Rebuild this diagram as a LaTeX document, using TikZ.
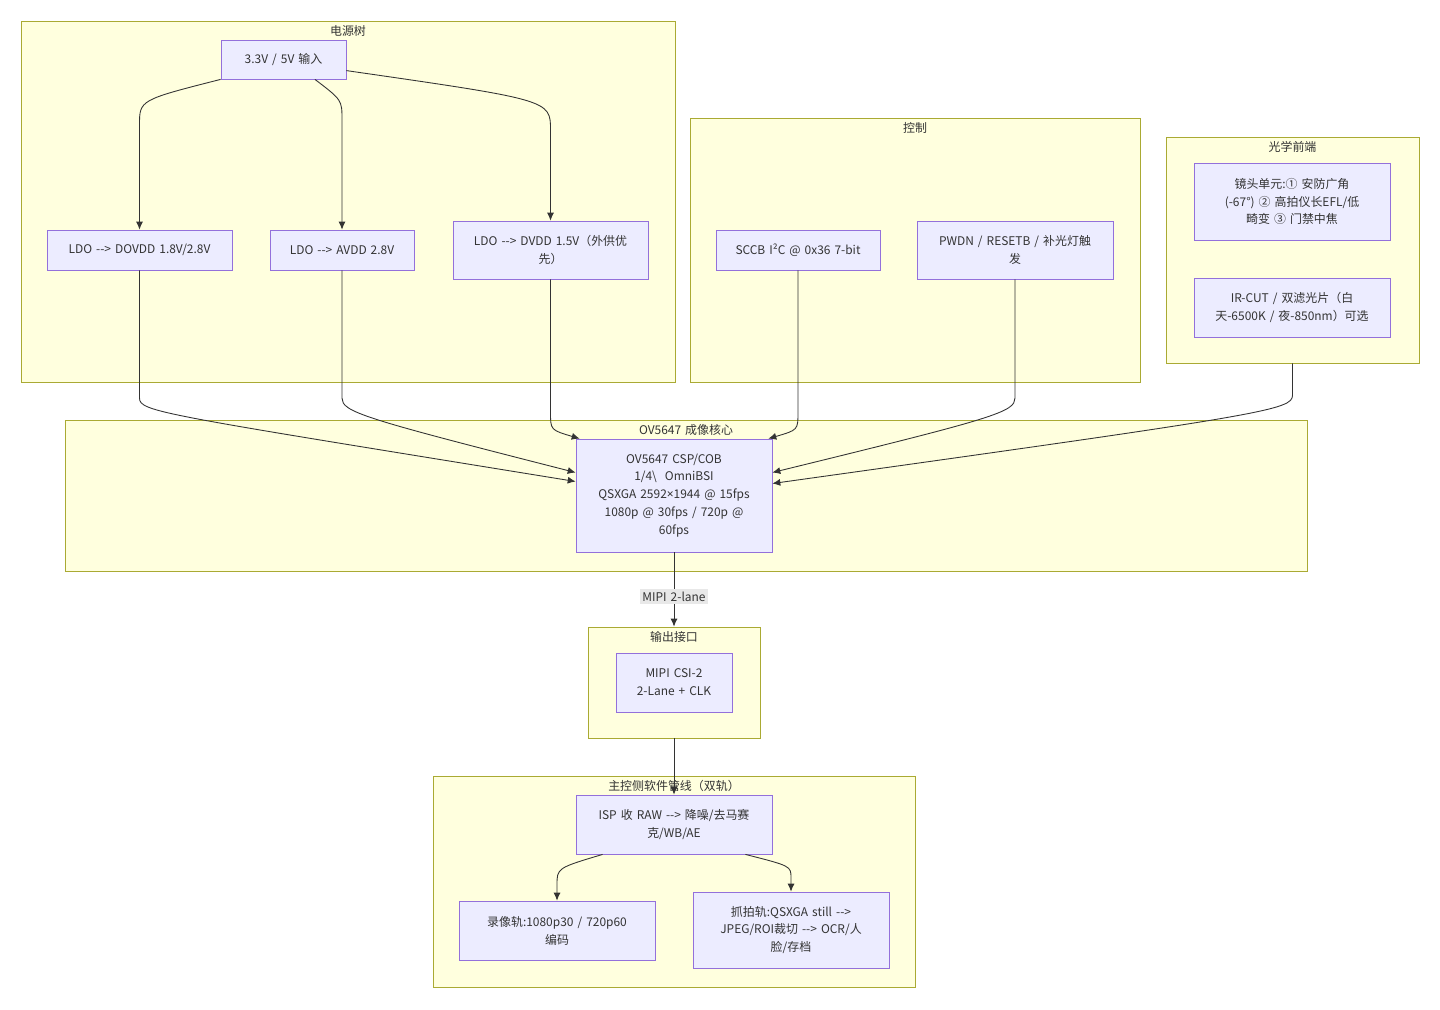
\documentclass[tikz,border=0pt]{standalone}
\usepackage{fontspec}
\setmainfont{Noto Sans CJK SC}[Ligatures=TeXOff,WordSpace=1.5]
\newfontfamily\latinfont{Noto Sans}
\usetikzlibrary{arrows.meta,calc}

\definecolor{clfill}{HTML}{FFFFDE}
\definecolor{cldraw}{HTML}{AAAA33}
\definecolor{ndfill}{HTML}{ECECFF}
\definecolor{nddraw}{HTML}{9370DB}
\definecolor{edgecol}{HTML}{333333}
\definecolor{lblfill}{HTML}{E8E8E8}
\newdimen\pu \pu=0.02cm

\begin{document}
\begin{tikzpicture}[x=0.02cm,y=-0.02cm,font=\fontsize{6.8}{10.2}\selectfont,text=edgecol]
  \tikzset{cluster/.style = {draw=cldraw,fill=clfill,line width=0.45pt,inner sep=0}}
  \tikzset{box/.style = {draw=nddraw,fill=ndfill,line width=0.45pt,inner sep=0,align=center}}
  \tikzset{edge/.style = {draw=edgecol,line width=0.5pt,-{Latex[length=4.5pt,width=4pt]}}}
  \tikzset{title/.style = {anchor=north,inner sep=1pt,yshift=-1.5pt}}

  \useasboundingbox (0,0) rectangle (1440,1009);
  \fill[white] (0,0) rectangle (1440,1009);

  % subgraphs
  \node[cluster,minimum width=654\pu,minimum height=361\pu] (power) at (348,201.5) {};
  \node[cluster,minimum width=450\pu,minimum height=264\pu] (ctrl) at (915,250) {};
  \node[cluster,minimum width=253\pu,minimum height=226\pu] (optic) at (1292.5,250) {};
  \node[cluster,minimum width=1242\pu,minimum height=151\pu] (core) at (686,495.5) {};
  \node[cluster,minimum width=172\pu,minimum height=111\pu] (out) at (674,682.5) {};
  \node[cluster,minimum width=482\pu,minimum height=211\pu] (host) at (674,881.5) {};

  \node[title] at (power.north) {电源树};
  \node[title] at (ctrl.north) {控制};
  \node[title] at (optic.north) {光学前端};
  \node[title] at (core.north) {OV5647 成像核心};
  \node[title] at (out.north) {输出接口};
  \node[title] at (host.north) {主控侧软件管线（双轨）};

  % power tree
  \node[box,minimum width=125\pu,minimum height=39\pu] (src) at (283.5,59.5) {3.3V / 5V 输入};
  \node[box,minimum width=185\pu,minimum height=40\pu] (ldoA) at (139.5,250) {LDO --> DOVDD 1.8V/2.8V};
  \node[box,minimum width=144\pu,minimum height=40\pu] (ldoB) at (342,250) {LDO --> AVDD 2.8V};
  \node[box,minimum width=195\pu,minimum height=58\pu] (ldoC) at (550.5,250) {LDO --> DVDD 1.5V（外供优\\先）};

  % control
  \node[box,minimum width=164\pu,minimum height=40\pu] (sccb) at (798,250) {SCCB I²C @ 0x36 7-bit};
  \node[box,minimum width=196\pu,minimum height=58\pu] (pwdn) at (1015,250) {PWDN / RESETB / 补光灯触\\发};

  % optics
  \node[box,minimum width=196\pu,minimum height=77\pu] (lens) at (1292,201.5) {镜头单元:① 安防广角\\(-67°) ② 高拍仪长EFL/低\\畸变 ③ 门禁中焦};
  \node[box,minimum width=196\pu,minimum height=59\pu] (ircut) at (1292,307.5) {IR-CUT / 双滤光片（白\\天-6500K / 夜-850nm）可选};

  % sensor
  \node[box,minimum width=196\pu,minimum height=113\pu] (sensor) at (674,495.5) {OV5647 CSP/COB\\1/4\textbackslash\ \ OmniBSI\\QSXGA 2592{\latinfont ×}1944 @ 15fps\\1080p @ 30fps / 720p @\\60fps};

  % output and host
  \node[box,minimum width=116\pu,minimum height=59\pu] (csi) at (674,682.5) {MIPI CSI-2\\2-Lane + CLK};
  \node[box,minimum width=196\pu,minimum height=59\pu] (isp) at (674,824.5) {ISP 收 RAW --> 降噪/去马赛\\克/WB/AE};
  \node[box,minimum width=196\pu,minimum height=59\pu] (rec) at (557,930.5) {录像轨:1080p30 / 720p60\\编码};
  \node[box,minimum width=196\pu,minimum height=76\pu] (snap) at (791,930) {抓拍轨:QSXGA still -->\\JPEG/ROI裁切 --> OCR/人\\脸/存档};

  % edges
  \draw[edge] (src.south west) .. controls (ldoA.north |- 0,100) .. (ldoA.north |- 0,125) -- (ldoA.north);
  \draw[edge] ($(src.south)!0.5!(src.south east)$) .. controls (ldoB.north |- 0,100) .. (ldoB.north |- 0,120) -- (ldoB.north);
  \draw[edge] (src.-10) .. controls (ldoC.north |- 0,100) .. (ldoC.north |- 0,130) -- (ldoC.north);

  \draw[edge] (ldoA.south) -- (ldoA.south |- 0,398) .. controls (ldoA.south |- 0,412) and (160,414) .. ($(sensor.west)+(0,-14)$);
  \draw[edge] (ldoB.south) -- (ldoB.south |- 0,398) .. controls (ldoB.south |- 0,412) and (362,418) .. ($(sensor.west)+(0,-23)$);
  \draw[edge] (ldoC.south) -- (ldoC.south |- 0,412) .. controls (ldoC.south |- 0,430) .. ($(sensor.north west)+(4,0)$);
  \draw[edge] (sccb.south) -- (sccb.south |- 0,412) .. controls (sccb.south |- 0,430) .. ($(sensor.north east)+(-4,0)$);
  \draw[edge] (pwdn.south) -- (pwdn.south |- 0,398) .. controls (pwdn.south |- 0,412) and (995,418) .. ($(sensor.east)+(0,-23)$);
  \draw[edge] (optic.south) -- (optic.south |- 0,395) .. controls (optic.south |- 0,410) and (1270,414) .. ($(sensor.east)+(0,-12)$);

  \draw[edge] (sensor.south) -- node[pos=0.6,fill=lblfill,inner sep=1.5pt] (lbl) {MIPI 2-lane} (out.north);
  \draw[edge] (out.south) -- (isp.north);

  \draw[edge] ($(isp.south west)+(27,0)$) .. controls (rec.north |- 0,868) .. (rec.north |- 0,885) -- (rec.north);
  \draw[edge] ($(isp.south east)+(-27,0)$) .. controls (snap.north |- 0,866) .. (snap.north |- 0,878) -- (snap.north);
\end{tikzpicture}
\end{document}
